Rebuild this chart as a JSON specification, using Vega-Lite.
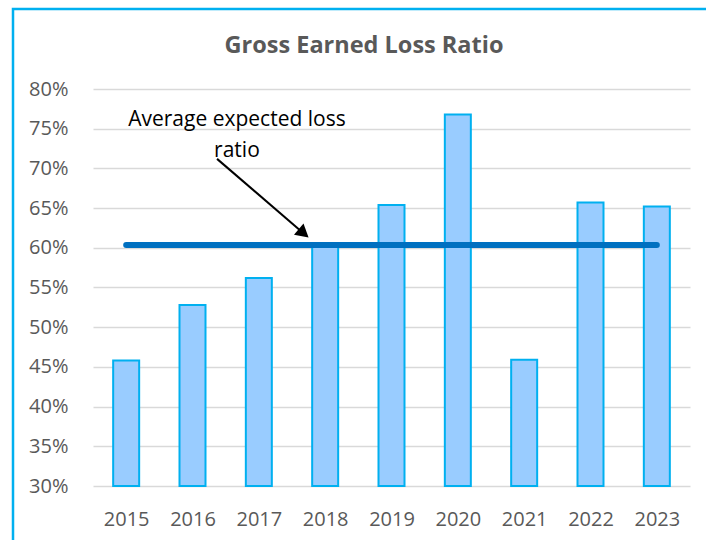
{
  "$schema": "https://vega.github.io/schema/vega-lite/v6.json",
  "width": 706,
  "height": 540,
  "autosize": "none",
  "padding": {"left": 13, "top": 9, "right": 0, "bottom": 0},
  "background": "white",
  "title": {
    "text": "Gross Earned Loss Ratio",
    "font": "Open Sans",
    "fontSize": 23.5,
    "fontWeight": "bold",
    "color": "#595959",
    "anchor": "middle",
    "frame": "group",
    "offset": -48,
    "dx": -2
  },
  "config": {
    "view": {"stroke": "#00B0F0", "strokeWidth": 2.5},
    "font": "Open Sans",
    "axis": {"labelFont": "Open Sans", "labelFontSize": 20, "labelColor": "#595959"}
  },
  "datasets": {
    "bars": [
      {"year": 2015, "ratio": 0.458},
      {"year": 2016, "ratio": 0.528},
      {"year": 2017, "ratio": 0.562},
      {"year": 2018, "ratio": 0.602},
      {"year": 2019, "ratio": 0.654},
      {"year": 2020, "ratio": 0.768},
      {"year": 2021, "ratio": 0.459},
      {"year": 2022, "ratio": 0.657},
      {"year": 2023, "ratio": 0.652}
    ],
    "avg": [
      {"from": 2015, "to": 2023, "ratio": 0.6035}
    ],
    "note": [
      {"year": 2016.67, "ratio": 0.7534, "label": "Average expected loss"},
      {"year": 2016.67, "ratio": 0.7147, "label": "ratio"}
    ],
    "arrow": [
      {"year": 2016.37, "ratio": 0.712, "year2": 2017.651, "ratio2": 0.620}
    ]
  },
  "layer": [
    {
      "data": {"name": "bars"},
      "mark": {"type": "bar", "fill": "#99CCFF", "stroke": "#00B0F0", "strokeWidth": 2, "width": 26},
      "encoding": {
        "x": {
          "field": "year",
          "type": "quantitative",
          "scale": {"domain": [2014.5, 2023.5], "range": [80, 677], "nice": false, "zero": false, "padding": 0},
          "axis": {
            "title": null,
            "orient": "bottom",
            "values": [2015, 2016, 2017, 2018, 2019, 2020, 2021, 2022, 2023],
            "format": "d",
            "offset": -63,
            "labelPadding": 23,
            "labelAngle": 0,
            "labelFlush": false,
            "labelOverlap": false,
            "ticks": false,
            "tickSize": 0,
            "domain": false,
            "grid": false
          }
        },
        "y": {
          "field": "ratio",
          "type": "quantitative",
          "scale": {"domain": [0.3, 0.8], "range": [477, 80], "zero": false, "nice": false},
          "axis": {
            "title": null,
            "format": ".0%",
            "values": [0.3, 0.35, 0.4, 0.45, 0.5, 0.55, 0.6, 0.65, 0.7, 0.75, 0.8],
            "offset": -80,
            "labelPadding": 25,
            "labelFlush": false,
            "labelOverlap": false,
            "ticks": false,
            "tickSize": 0,
            "domain": false,
            "grid": true,
            "gridColor": "#D9D9D9",
            "gridWidth": 1.5
          }
        },
        "y2": {"datum": 0.3}
      }
    },
    {
      "data": {"name": "avg"},
      "mark": {"type": "rule", "color": "#0070C0", "strokeWidth": 6, "strokeCap": "round"},
      "encoding": {
        "x": {"field": "from", "type": "quantitative"},
        "x2": {"field": "to"},
        "y": {"field": "ratio", "type": "quantitative"}
      }
    },
    {
      "data": {"name": "note"},
      "mark": {"type": "text", "font": "Open Sans", "fontSize": 21, "color": "black", "align": "center", "baseline": "alphabetic"},
      "encoding": {
        "x": {"field": "year", "type": "quantitative"},
        "y": {"field": "ratio", "type": "quantitative"},
        "text": {"field": "label"}
      }
    },
    {
      "data": {"name": "arrow"},
      "mark": {"type": "rule", "color": "black", "strokeWidth": 2},
      "encoding": {
        "x": {"field": "year", "type": "quantitative"},
        "x2": {"field": "year2"},
        "y": {"field": "ratio", "type": "quantitative"},
        "y2": {"field": "ratio2"}
      }
    },
    {
      "data": {"name": "arrow"},
      "mark": {"type": "point", "shape": "triangle", "filled": true, "color": "black", "opacity": 1, "size": 220, "angle": 130},
      "encoding": {
        "x": {"field": "year2", "type": "quantitative"},
        "y": {"field": "ratio2", "type": "quantitative"}
      }
    }
  ]
}
